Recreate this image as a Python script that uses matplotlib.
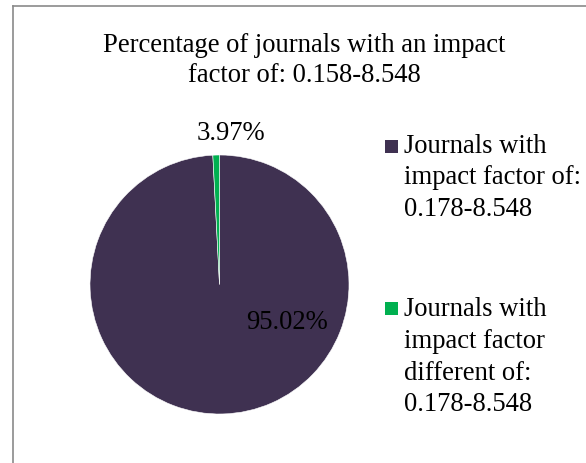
import matplotlib.pyplot as plt
from matplotlib.lines import Line2D
from matplotlib.patches import Rectangle

plt.rcParams['font.family'] = ['Liberation Serif', 'DejaVu Serif']

# data
categories = ['Journals with\nimpact factor of:\n0.178-8.548',
              'Journals with\nimpact factor\ndifferent of:\n0.178-8.548']
wedge_sizes = [99.18, 0.82]          # share as drawn in the picture
pct_labels = ['95.02%', '3.97%']     # labels as printed on the chart
colors = ['#3f3151', '#00b050']
title = 'Percentage of journals with an impact\nfactor of: 0.158-8.548'

W, H = 586, 463
fig = plt.figure(figsize=(W / 100, H / 100), dpi=100)

# pie axes: centre (219.5, 284.5) px, radius 129.5 px
cx, cy, r = 219.5, 284.5, 129.5
ax = fig.add_axes([(cx - r) / W, (H - cy - r) / H, 2 * r / W, 2 * r / H])
ax.pie(wedge_sizes, colors=colors, startangle=90, counterclock=False,
       radius=1, wedgeprops=dict(edgecolor='white', linewidth=0.4))
ax.set_xlim(-1, 1)
ax.set_ylim(-1, 1)
ax.set_aspect('auto')
ax.axis('off')

fs = 19.2
ax.text(0.521, -0.346, pct_labels[0], ha='center', va='baseline', fontsize=fs, color='black')
ax.text(0.089, 1.116, pct_labels[1], ha='center', va='baseline', fontsize=fs, color='black',
        clip_on=False)

# title
fig.text(304.5 / W, 1 - 46 / H, title.split('\n')[0], ha='center', va='center', fontsize=fs)
fig.text(304.5 / W, 1 - 76 / H, title.split('\n')[1], ha='center', va='center', fontsize=fs)

# legend, drawn by hand to match the spacing
leg_top = [140, 302]       # top of marker squares, px
leg_base = [153, 316.5]    # baseline of first line, px
step = 31.5
for lab, col, top, base in zip(categories, colors, leg_top, leg_base):
    fig.patches.append(Rectangle((385 / W, 1 - (top + 13) / H), 13 / W, 13 / H,
                                 transform=fig.transFigure, facecolor=col, edgecolor='none'))
    for i, line in enumerate(lab.split('\n')):
        fig.text(404 / W, 1 - (base + i * step) / H, line, ha='left', va='baseline', fontsize=fs)

# chart area border (only top and left edges visible)
fig.add_artist(Line2D([12.5 / W, 1], [1 - 5.5 / H, 1 - 5.5 / H], color='#8a8a8a', lw=1.2))
fig.add_artist(Line2D([12.5 / W, 12.5 / W], [0, 1 - 5.5 / H], color='#8a8a8a', lw=1.2))

fig.savefig('out.png', dpi=100)
